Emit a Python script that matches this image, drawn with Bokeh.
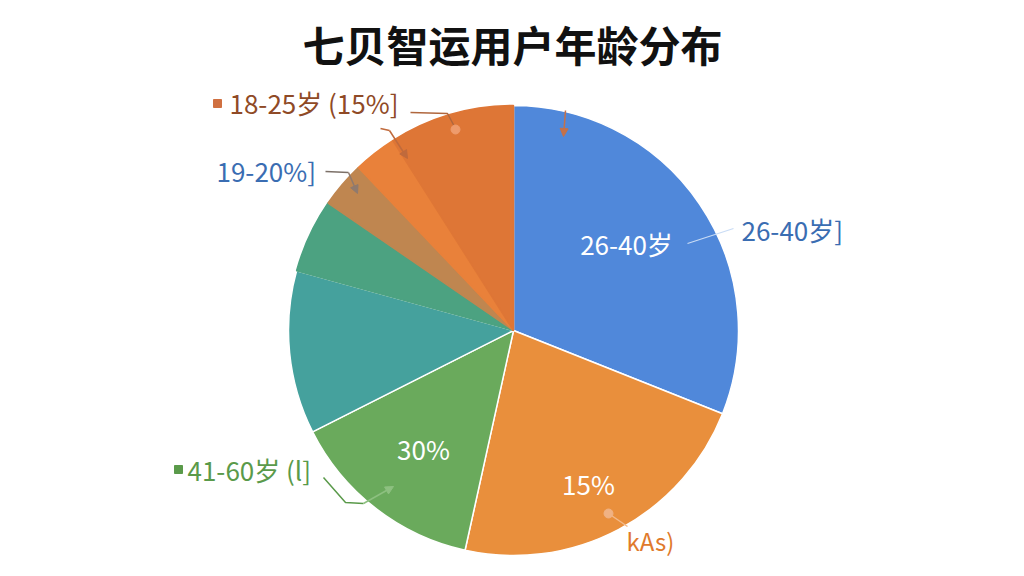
import numpy as np
from bokeh.plotting import figure
from bokeh.models import Range1d, ColumnDataSource, Arrow, NormalHead
from bokeh.core.properties import value
from bokeh.embed import file_html
from bokeh.resources import INLINE

# ---- data (clockwise from 12 o'clock) ----
segments = ["26-40岁", "15%", "30%", "段4", "段5", "19-20%", "18-25岁-a", "18-25岁"]
shares = [31.0, 22.4, 14.1, 11.7, 5.3, 3.3, 3.1, 9.0]
colors = ["#5088da", "#e98f3c", "#6aaa5c", "#45a19d", "#4ca281", "#bf8650", "#e9813a", "#de7636"]
edge_colors = ["white", "white", "white", "white", "#4ca281", "#bf8650", "#e9813a", "#de7636"]

title_text = "七贝智运用户年龄分布"
inner_labels = ["26-40岁", "15%", "30%"]
outer_labels = ["26-40岁]", "kAs)", "41-60岁 (l]", "18-25岁 (15%]", "19-20%]"]

FONT = value("Noto Sans CJK SC")
W, H = 1008, 560


def X(px):
    return px


def Y(py):
    return H - py


p = figure(width=W, height=H, output_backend="svg", toolbar_location=None,
           x_range=Range1d(0, W), y_range=Range1d(0, H), min_border=0)
p.axis.visible = False
p.grid.visible = False
p.outline_line_color = None
p.background_fill_color = "white"

# ---- pie ----
frac = np.array(shares) / np.sum(shares)
cum = np.concatenate([[0], np.cumsum(frac)])
start = np.pi / 2 - cum[:-1] * 2 * np.pi
end = np.pi / 2 - cum[1:] * 2 * np.pi
src = ColumnDataSource(dict(seg=segments, start=start, end=end, color=colors, lc=edge_colors))
cx, cy, r = X(513), Y(330), 225
p.wedge(x=cx, y=cy, radius=r, start_angle="start", end_angle="end", direction="clock",
        fill_color="color", line_color="lc", line_width=1.5, source=src)

# ---- title ----
p.text(x=[X(512)], y=[Y(43)], text=[title_text], text_font=FONT, text_font_size="42px",
       text_font_style="bold", text_color="#111111", text_align="center", text_baseline="middle")

# ---- inner labels ----
p.text(x=[X(626), X(588), X(423)], y=[Y(243), Y(483), Y(448)], text=inner_labels,
       text_font=FONT, text_font_size="26px", text_color="white",
       text_align="center", text_baseline="middle")

# ---- outer labels ----
def lab(px, py, t, c, size="26px"):
    p.text(x=[X(px)], y=[Y(py)], text=[t], text_font=FONT, text_font_size=size,
           text_color=c, text_align="left", text_baseline="middle")


lab(741, 229, outer_labels[0], "#3a6db2")
lab(626, 540, outer_labels[1], "#e07a2c", "24px")
lab(187, 469, outer_labels[2], "#5a9a4a")
lab(229, 102, outer_labels[3], "#8f4a26")
lab(216, 170, outer_labels[4], "#3a6db2")

p.scatter(x=[X(178), X(217)], y=[Y(469), Y(103)], marker="square", size=8,
          color=["#5a9a4a", "#d07040"])

# ---- leader lines ----
def leader(pts, c, w=1.5, alpha=1.0):
    p.line(x=[X(a) for a, b in pts], y=[Y(b) for a, b in pts], line_color=c, line_width=w,
           line_alpha=alpha)


def arrow(x0, y0, x1, y1, c, size=8):
    p.add_layout(Arrow(end=NormalHead(size=size, fill_color=c, line_color=c),
                       x_start=X(x0), y_start=Y(y0), x_end=X(x1), y_end=Y(y1),
                       line_color=c, line_width=1.5))


leader([(687, 243), (733, 228)], "#c9dcf5", 1.2)
leader([(608, 513), (627, 526)], "#f2b98a", 1.5)
p.scatter(x=[X(608)], y=[Y(513)], size=9, color="#f0b283")
leader([(410, 112), (447, 113), (455, 128)], "#b0673e")
p.scatter(x=[X(455)], y=[Y(129)], size=9, color="#ee9b6c")
leader([(380, 128), (389, 130)], "#c06a3c")
arrow(389, 130, 407, 158, "#c06a3c")
leader([(325, 171), (348, 172)], "#7c7068")
arrow(348, 172, 357, 193, "#8f7a6e")
arrow(565, 110, 563, 136, "#c4714a")
leader([(323, 477), (345, 502), (363, 503)], "#5a9a4a")
arrow(363, 503, 393, 486, "#8dc080")

open("out.html", "w").write(file_html(p, INLINE))
